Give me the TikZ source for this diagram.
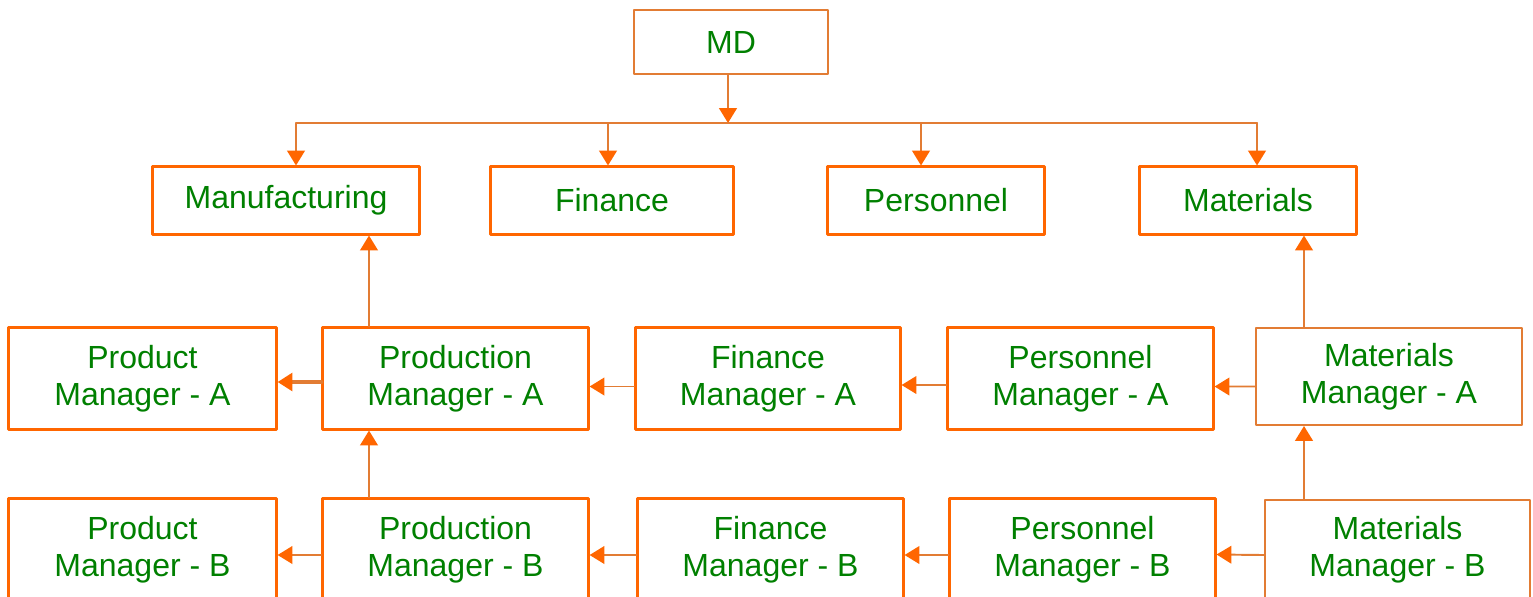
\documentclass[tikz,border=0pt]{standalone}
\usepackage{fontspec}
\setmainfont{Liberation Sans}
\usepackage{tikz}
\usetikzlibrary{arrows.meta}
\definecolor{boxorange}{RGB}{255,102,0}
\definecolor{lineorange}{RGB}{226,124,52}
\definecolor{textgreen}{RGB}{0,128,0}

\begin{document}
\begin{tikzpicture}[line cap=round,line join=round,x=0.01cm,y=-0.01cm,
	>={Triangle[length=4.2pt,width=5pt,color=boxorange]},
	obox/.style={draw=boxorange,line width=0.85pt,fill=white,inner sep=0pt,align=center,text=textgreen,font=\fontsize{9.1}{10.5}\selectfont},
	tbox/.style={obox,draw=lineorange,line width=0.55pt},
	link/.style={->,draw=lineorange,line width=0.55pt}]
	\useasboundingbox (0,0) rectangle (1533,596);
	\clip (0,0) rectangle (1533,596);
	\node[tbox,minimum width=1.94cm,minimum height=0.64cm] (md) at (731,42) {MD};
	\node[obox,minimum width=2.66cm,minimum height=0.67cm] (manu) at (286,200.5) {Manufacturing};
	\node[obox,minimum width=2.42cm,minimum height=0.67cm] (fin) at (612,200.5) {Finance};
	\node[obox,minimum width=2.16cm,minimum height=0.67cm] (pers) at (936,200.5) {Personnel};
	\node[obox,minimum width=2.16cm,minimum height=0.67cm] (mats) at (1248,200.5) {Materials};
	\node[obox,minimum width=2.67cm,minimum height=1.01cm] (prodA) at (142.5,378.5) {Product\\Manager - A};
	\node[obox,minimum width=2.65cm,minimum height=1.01cm] (prnA) at (455.5,378.5) {Production\\Manager - A};
	\node[obox,minimum width=2.64cm,minimum height=1.01cm] (finA) at (768,378.5) {Finance\\Manager - A};
	\node[obox,minimum width=2.65cm,minimum height=1.01cm] (perA) at (1080.5,378.5) {Personnel\\Manager - A};
	\node[tbox,minimum width=2.66cm,minimum height=0.97cm] (matA) at (1389,376.5) {Materials\\Manager - A};
	\node[obox,minimum width=2.67cm,minimum height=1.01cm] (prodB) at (142.5,549.5) {Product\\Manager - B};
	\node[obox,minimum width=2.65cm,minimum height=1.01cm] (prnB) at (455.5,549.5) {Production\\Manager - B};
	\node[obox,minimum width=2.65cm,minimum height=1.01cm] (finB) at (770.5,549.5) {Finance\\Manager - B};
	\node[obox,minimum width=2.65cm,minimum height=1.01cm] (perB) at (1082.5,549.5) {Personnel\\Manager - B};
	\node[tbox,minimum width=2.65cm,minimum height=1.0cm] (matB) at (1397.5,550) {Materials\\Manager - B};
	\coordinate (bus) at (728,123);
	\coordinate (b1) at (296,123);
	\coordinate (b2) at (608,123);
	\coordinate (b3) at (921,123);
	\coordinate (b4) at (1257,123);
	\coordinate (upA) at (369,0);
	\coordinate (upM) at (1304,0);
	\draw[link] (md.south -| bus) -- (bus);
	\draw[lineorange,line width=0.55pt] (b1) -- (b4);
	\draw[link] (b1) -- (b1 |- manu.north);
	\draw[link] (b2) -- (b2 |- fin.north);
	\draw[link] (b3) -- (b3 |- pers.north);
	\draw[link] (b4) -- (b4 |- mats.north);
	\draw[link] (upA |- prnA.north) -- (upA |- manu.south);
	\draw[link] (upA |- prnB.north) -- (upA |- prnA.south);
	\draw[link] (upM |- matA.north) -- (upM |- mats.south);
	\draw[link] (upM |- matB.north) -- (upM |- matA.south);
	\draw[link,line width=1.1pt] ([yshift=-0.035cm]prnA.west) -- ([yshift=-0.035cm]prodA.east);
	\draw[link] ([yshift=-0.08cm]finA.west) -- ([yshift=-0.08cm]prnA.east);
	\draw[link] ([yshift=-0.065cm]perA.west) -- ([yshift=-0.065cm]finA.east);
	\draw[link] ([yshift=-0.1cm]matA.west) -- ([yshift=-0.08cm]perA.east);
	\draw[link] ([yshift=-0.055cm]prnB.west) -- ([yshift=-0.055cm]prodB.east);
	\draw[link] ([yshift=-0.055cm]finB.west) -- ([yshift=-0.055cm]prnB.east);
	\draw[link] ([yshift=-0.055cm]perB.west) -- ([yshift=-0.055cm]finB.east);
	\draw[link] ([yshift=-0.05cm]matB.west) -- ([yshift=-0.05cm]perB.east);
\end{tikzpicture}
\end{document}
